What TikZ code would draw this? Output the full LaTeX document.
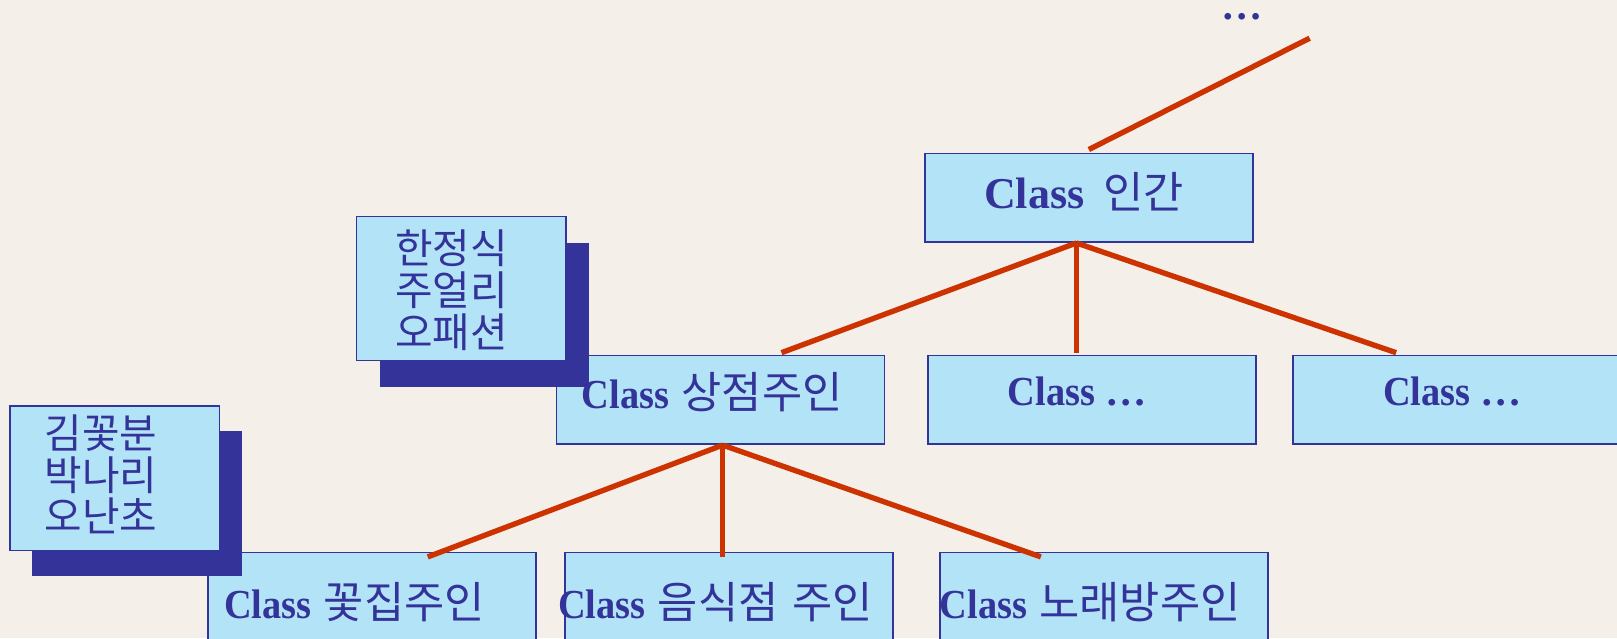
\documentclass[tikz,border=0pt]{standalone}
\usepackage{fontspec}
\setmainfont{Liberation Serif}
\newfontfamily\krfont{Noto Sans CJK KR}[Scale=1.06]
\usetikzlibrary{calc}
\definecolor{bgcol}{HTML}{F4EFE9}
\definecolor{boxfill}{HTML}{B3E3F7}
\definecolor{navy}{HTML}{333399}
\definecolor{redline}{HTML}{CC3300}
\newcommand{\clsword}{{\fontsize{32}{32}\selectfont\textbf{Class}}}
\newcommand{\clsnarrow}{\scalebox{0.93}[1]{\textbf{Class}}}
\tikzset{
  classbox/.style={draw=navy, line width=1.2pt, fill=boxfill, anchor=north west,
    minimum width=238.5pt, minimum height=64.5pt, inner sep=0pt},
  notebox/.style={draw=navy, line width=1pt, fill=boxfill, anchor=north west,
    minimum width=152.25pt, minimum height=105pt, inner sep=0pt},
  noteshadow/.style={draw=none, fill=navy, anchor=north west,
    minimum width=152.25pt, minimum height=105pt, inner sep=0pt},
  classtext/.style={text=navy, anchor=west, inner sep=0pt,
    font=\fontsize{30}{30}\selectfont},
  notetext/.style={text=navy, align=left, inner sep=0pt,
    font=\krfont\fontsize{28}{30.5}\selectfont},
  link/.style={draw=redline, line width=3.9pt},
}
\begin{document}
\begin{tikzpicture}[x=0.75pt, y=-0.75pt]
\path[use as bounding box, fill=bgcol] (0,0) rectangle (1568,619);
\clip (0,0) rectangle (1568,619);

% class boxes
\node[classbox] (human) at (896,148) {};
\node[classbox] (shop) at (539,344) {};
\node[classbox] (midc) at (899,344) {};
\node[classbox] (rightc) at (1253,344) {};
\node[classbox] (flower) at (201,535) {};
\node[classbox] (food) at (547,535) {};
\node[classbox] (karaoke) at (911,535) {};

% texts
\node[classtext] (humant) at (954,186) {\clsword\hspace{14pt}{\krfont 인간}};
\node[classtext] (shopt) at (564,380) {\clsnarrow\hspace{9pt}{\krfont 상점주인}};
\node[classtext] (midct) at (977,380) {\clsnarrow{} \textbf{…}};
\node[classtext] (rightct) at (1341,380) {\clsnarrow{} \textbf{…}};
\node[classtext] (flowert) at (217,584) {\clsnarrow\hspace{9pt}{\krfont 꽃집주인}};
\node[classtext] (foodt) at (541,584) {\clsnarrow\hspace{9pt}{\krfont 음식점\hspace{10pt}주인}};
\node[classtext] (karaoket) at (911,584) {\clsnarrow\hspace{9pt}{\krfont 노래방주인}};

\node[text=navy, anchor=base, inner sep=0pt, font=\fontsize{30}{30}\selectfont\bfseries] (dots) at (1204,19) {…};
\coordinate (topend) at (1270,37);

% connectors
\draw[link] ($(human.north)+(0,-3)$) -- (topend);
\draw[link] ($(human.south)+(-12,0)$) -- ($(shop.north)+(59,-2)$);
\draw[link] ($(human.south)+(-12,0)$) -- ($(midc.north)+(-15,-2)$);
\draw[link] ($(human.south)+(-12,0)$) -- ($(rightc.north)+(-59,-2)$);
\draw[link] ($(shop.south)+(2,0)$) -- ($(flower.north)+(54,5)$);
\draw[link] ($(shop.south)+(2,0)$) -- ($(food.north)+(-6,5)$);
\draw[link] ($(shop.south)+(2,0)$) -- ($(karaoke.north)+(-61.5,5)$);

% notes
\node[noteshadow] (noteAsh) at (368,235) {};
\node[notebox] (noteA) at (345,209) {};
\node[notetext] (noteAt) at (438,281) {한정식\\주얼리\\오패션};
\node[noteshadow] (noteBsh) at (31,418) {};
\node[notebox] (noteB) at (9,393) {};
\node[notetext] (noteBt) at (98,460) {김꽃분\\박나리\\오난초};
\end{tikzpicture}
\end{document}
